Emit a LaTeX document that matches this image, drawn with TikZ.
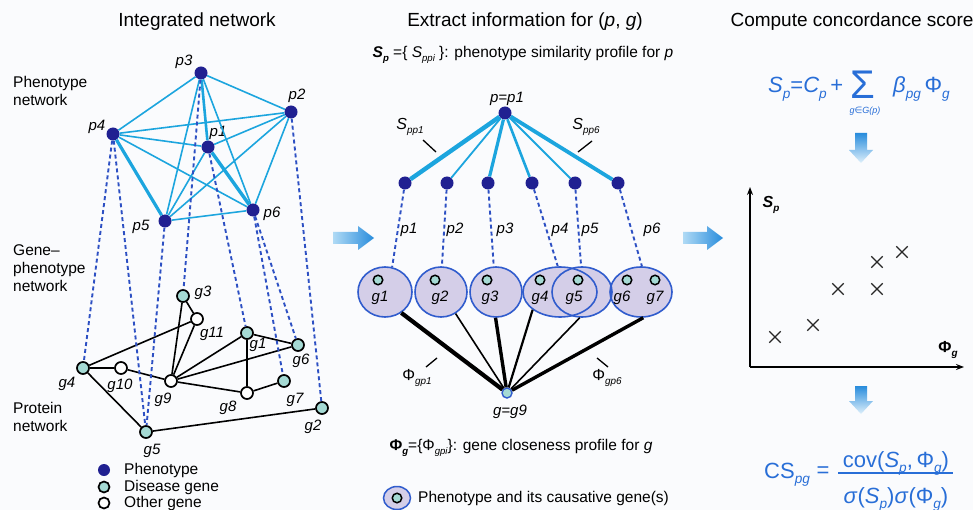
\documentclass[tikz,border=0pt]{standalone}
\usepackage{fontspec}
\setmainfont{Liberation Sans}
\newfontfamily\djv{DejaVu Sans}
\usetikzlibrary{shapes.geometric,shapes.misc,arrows.meta}
\definecolor{bgc}{RGB}{250,251,253}
\definecolor{phc}{RGB}{32,32,145}
\definecolor{pec}{RGB}{28,165,222}
\definecolor{dlc}{RGB}{45,80,195}
\definecolor{dgc}{RGB}{165,218,212}
\definecolor{elf}{RGB}{212,206,232}
\definecolor{eld}{RGB}{48,92,205}
\definecolor{fmc}{RGB}{40,110,215}
\definecolor{arA}{RGB}{40,140,220}
\definecolor{arB}{RGB}{175,218,245}
\newcommand\mysub[1]{\raisebox{-0.45ex}{\scalebox{0.62}{\itshape #1}}}
\begin{document}
\begin{tikzpicture}[x=1pt,y=-1pt,
  title/.style={font=\fontsize{19}{22}\selectfont, inner sep=0pt},
  side/.style={font=\fontsize{15.5}{18}\selectfont, align=left, inner sep=0pt, anchor=west},
  lab/.style={font=\fontsize{15}{17}\selectfont\itshape, inner sep=0pt},
  txt/.style={font=\fontsize{15.5}{18}\selectfont, inner sep=0pt},
  pheno/.style={circle, fill=phc, minimum size=13pt, inner sep=0pt},
  dgene/.style={circle, fill=dgc, draw=black, line width=1.7pt, minimum size=12pt, inner sep=0pt},
  ogene/.style={circle, fill=white, draw=black, line width=1.7pt, minimum size=12pt, inner sep=0pt},
  sgene/.style={dgene, minimum size=9.5pt, line width=1.5pt},
  pedge/.style={draw=pec, line width=1.6pt},
  gedge/.style={draw=black, line width=1.6pt},
  dline/.style={draw=dlc, line width=1.9pt, dash pattern=on 4pt off 3pt},
  phfill/.style={ellipse, fill=elf, inner sep=0pt, minimum height=50pt},
  phline/.style={ellipse, draw=eld, line width=1.6pt, inner sep=0pt, minimum height=50pt},
  fm/.style={font=\fontsize{22}{26}\selectfont, text=fmc, inner sep=0pt},
  xmark/.style={cross out, draw=black!85, line width=1.3pt, minimum size=10pt, inner sep=0pt},
]
\fill[bgc] (0,0) rectangle (973,510);
\useasboundingbox (0,0) rectangle (973,510);

% ---------- titles
\node[title] (t1) at (197,22) {Integrated network};
\node[title] (t2) at (525,22) {Extract information for (\textit{p}, \textit{g})};
\node[title] (t3) at (852,22) {Compute concordance score};

% ---------- left panel
\node[side] (lph) at (13,91) {Phenotype\\network};
\node[side] (lgp) at (13,268) {Gene–\\phenotype\\network};
\node[side] (lpr) at (13,417) {Protein\\network};

\node[pheno] (p3) at (201,73) {};
\node[pheno] (p2) at (291,112) {};
\node[pheno] (p4) at (113,134) {};
\node[pheno] (p1) at (208,147) {};
\node[pheno] (p6) at (253,210) {};
\node[pheno] (p5) at (165,221) {};
\node[lab] (lp3) at (184,62) {p3};
\node[lab] (lp2) at (297,96) {p2};
\node[lab] (lp4) at (97,127) {p4};
\node[lab] (lp1) at (218,133) {p1};
\node[lab] (lp6) at (272,214) {p6};
\node[lab] (lp5) at (141,227) {p5};

\draw[pedge] (p3) -- (p4);
\draw[pedge] (p3) -- (p2);
\draw[pedge, line width=2.6pt] (p3) -- (p1);
\draw[pedge] (p3) -- (p5);
\draw[pedge] (p3) -- (p6);
\draw[pedge] (p4) -- (p2);
\draw[pedge] (p4) -- (p1);
\draw[pedge] (p4) -- (p6);
\draw[pedge, line width=3.2pt] (p4) -- (p5);
\draw[pedge] (p2) -- (p1);
\draw[pedge] (p2) -- (p5);
\draw[pedge] (p2) -- (p6);
\draw[pedge] (p1) -- (p5);
\draw[pedge, line width=3.4pt] (p1) -- (p6);
\draw[pedge] (p5) -- (p6);

\node[dgene] (g3) at (183,296) {};
\node[ogene] (g11) at (197,319) {};
\node[dgene] (g1) at (247,333) {};
\node[dgene] (g6) at (298,345) {};
\node[dgene] (g4) at (83,368) {};
\node[ogene] (g10) at (121,368) {};
\node[ogene] (g9) at (171,381) {};
\node[dgene] (g7) at (284,381) {};
\node[ogene] (g8) at (247,393) {};
\node[dgene] (g2) at (322,408) {};
\node[dgene] (g5) at (146,432) {};
\node[lab] (lg3) at (203,293) {g3};
\node[lab] (lg11) at (212,334) {g11};
\node[lab] (lg1) at (258,345) {g1};
\node[lab] (lg6) at (301,361) {g6};
\node[lab] (lg4) at (67,384) {g4};
\node[lab] (lg10) at (120,386) {g10};
\node[lab] (lg9) at (163,400) {g9};
\node[lab] (lg7) at (295,400) {g7};
\node[lab] (lg8) at (228,408) {g8};
\node[lab] (lg2) at (313,427) {g2};
\node[lab] (lg5) at (152,451) {g5};

\draw[gedge] (g3) -- (g11);
\draw[gedge] (g3) -- (g9);
\draw[gedge] (g11) -- (g9);
\draw[gedge] (g11) -- (g4);
\draw[gedge] (g4) -- (g10);
\draw[gedge] (g4) -- (g5);
\draw[gedge] (g10) -- (g9);
\draw[gedge] (g9) -- (g1);
\draw[gedge] (g9) -- (g6);
\draw[gedge] (g9) -- (g8);
\draw[gedge] (g1) -- (g6);
\draw[gedge] (g1) -- (g8);
\draw[gedge] (g8) -- (g7);
\draw[gedge] (g5) -- (g2);

\draw[dline] (p4) -- (g4);
\draw[dline] (p4) -- (g5);
\draw[dline] (p5) -- (g5);
\draw[dline] (p3) -- (g3);
\draw[dline] (p1) -- (g1);
\draw[dline] (p6) -- (g7);
\draw[dline] (p6) -- (g6);
\draw[dline] (p2) -- (g2);

% left legend
\node[pheno, minimum size=12pt] (lgd1) at (104,470) {};
\node[dgene, minimum size=11pt] (lgd2) at (104,487) {};
\node[ogene, minimum size=11pt] (lgd3) at (104,503) {};
\node[txt, anchor=west] (lgt1) at (124,470) {Phenotype};
\node[txt, anchor=west] (lgt2) at (124,487) {Disease gene};
\node[txt, anchor=west] (lgt3) at (124,503) {Other gene};

% ---------- panel arrows
\shade[left color=arB, right color=arA] (333,232) -- (358,232) -- (358,226) -- (374,238) -- (358,250) -- (358,244) -- (333,244) -- cycle;
\shade[left color=arB, right color=arA] (683,232) -- (707,232) -- (707,226) -- (723,238) -- (707,250) -- (707,244) -- (683,244) -- cycle;
\shade[top color=arA, bottom color=arB!40!white] (855,133) -- (867,133) -- (867,150) -- (873,150) -- (861,163) -- (849,150) -- (855,150) -- cycle;
\shade[top color=arA, bottom color=arB!40!white] (855,386) -- (867,386) -- (867,401) -- (873,401) -- (861,414) -- (849,401) -- (855,401) -- cycle;

% ---------- middle panel
\node[txt] (sprof) at (523,55) {\textbf{\textit{S}}\mysub{\bfseries p} =\{ \textit{S}\mysub{ppi} \}: phenotype similarity profile for \textit{p}};
\node[pheno] (pp) at (505,113) {};
\node[lab] (lpp) at (507,99) {p=p1};
\node[pheno] (q1) at (405,183) {};
\node[pheno] (q2) at (447,183) {};
\node[pheno] (q3) at (488,183) {};
\node[pheno] (q4) at (532,183) {};
\node[pheno] (q5) at (575,183) {};
\node[pheno] (q6) at (618,183) {};
\draw[pedge, line width=4.4pt] (pp) -- (q1);
\draw[pedge, line width=1.8pt] (pp) -- (q2);
\draw[pedge, line width=3.2pt] (pp) -- (q3);
\draw[pedge, line width=2.6pt] (pp) -- (q4);
\draw[pedge, line width=1.9pt] (pp) -- (q5);
\draw[pedge, line width=3.8pt] (pp) -- (q6);
\node[lab, font=\fontsize{16}{18}\selectfont] (spp1) at (410,127) {\itshape S\mysub{pp1}};
\node[lab, font=\fontsize{16}{18}\selectfont] (spp6) at (586,127) {\itshape S\mysub{pp6}};
\draw[line width=1.3pt] (423,140) -- (436,152);
\draw[line width=1.3pt] (592,141) -- (578,152);

\node[phfill, minimum width=54pt] (e1f) at (385,292) {};
\node[phfill, minimum width=52pt] (e2f) at (441,292) {};
\node[phfill, minimum width=52pt] (e3f) at (496,292) {};
\node[phfill, minimum width=74pt] (e4f) at (560,292) {};
\node[phfill, minimum width=60pt] (e5f) at (582,292) {};
\node[phfill, minimum width=62pt] (e6f) at (641,292) {};
\node[phline, minimum width=54pt] (e1) at (385,292) {};
\node[phline, minimum width=52pt] (e2) at (441,292) {};
\node[phline, minimum width=52pt] (e3) at (496,292) {};
\node[phline, minimum width=74pt] (e4) at (560,292) {};
\node[phline, minimum width=60pt] (e5) at (582,292) {};
\node[phline, minimum width=62pt] (e6) at (641,292) {};

\node[sgene] (m1) at (378,280) {};
\node[sgene] (m2) at (435,280) {};
\node[sgene] (m3) at (487,280) {};
\node[sgene] (m4) at (540,280) {};
\node[sgene] (m5) at (578,280) {};
\node[sgene] (m6) at (627,280) {};
\node[sgene] (m7) at (655,280) {};
\node[lab] (lm1) at (380,298) {g1};
\node[lab] (lm2) at (440,298) {g2};
\node[lab] (lm3) at (490,298) {g3};
\node[lab] (lm4) at (540,298) {g4};
\node[lab] (lm5) at (574,298) {g5};
\node[lab] (lm6) at (622,298) {g6};
\node[lab] (lm7) at (655,298) {g7};

\draw[dline] (q1) -- (e1.74);
\draw[dline] (q2) -- (e2.88);
\draw[dline] (q3) -- (e3.95);
\draw[dline] (q4) -- (e4.95);
\draw[dline] (q5) -- (e5.92);
\draw[dline] (q6) -- (e6.88);
\node[lab] (lq1) at (409,230) {p1};
\node[lab] (lq2) at (455,230) {p2};
\node[lab] (lq3) at (505,230) {p3};
\node[lab] (lq4) at (560,230) {p4};
\node[lab] (lq5) at (590,230) {p5};
\node[lab] (lq6) at (652,230) {p6};

\node[circle, fill=dgc, draw=eld, line width=1.4pt, minimum size=10pt, inner sep=0pt] (m9) at (507,393) {};
\node[lab] (lm9) at (510,412) {g=g9};
\draw[line width=4.2pt] (m9) -- (e1.-52);
\draw[line width=1.6pt] (m9) -- (e2.-56);
\draw[line width=3.4pt] (m9) -- (e3.-91);
\draw[line width=2.2pt] (m9) -- (e4.-147);
\draw[line width=1.6pt] (m9) -- (e5.-95);
\draw[line width=3.4pt] (m9) -- (e6.-85);
\node[lab, font=\fontsize{16}{18}\selectfont] (pg1) at (417,378) {Φ\mysub{gp1}};
\node[lab, font=\fontsize{16}{18}\selectfont] (pg6) at (607,378) {Φ\mysub{gp6}};
\draw[line width=1.3pt] (437,358) -- (426,367);
\draw[line width=1.3pt] (597,358) -- (608,367);

\node[txt] (gprof) at (521,448) {\textbf{Φ}\mysub{\bfseries g}=\{Φ\mysub{gpi}\}: gene closeness profile for \textit{g}};

\node[ellipse, fill=elf, draw=eld, line width=1.5pt, minimum width=27pt, minimum height=23pt, inner sep=0pt] (lge) at (397,498) {};
\node[sgene] (lgg) at (397,498) {};
\node[txt, anchor=west] (lget) at (418,498) {Phenotype and its causative gene(s)};

% ---------- right panel
\node[fm, anchor=base west] (f1a) at (768,93) {\itshape S\mysub{p}\upshape=\itshape C\mysub{p}\upshape\,+};
\node[fm, anchor=base, font=\fontsize{40}{40}\selectfont] (sig) at (863,99) {Σ};
\node[text=fmc, inner sep=0pt, font=\fontsize{9}{10}\selectfont\itshape] (sigsub) at (865,111) {g{\upshape\djv ∈}G(p)};
\node[fm, anchor=base west] (f1b) at (893,93) {\itshape β\mysub{pg}\upshape\,Φ\mysub{g}};

\coordinate (O) at (750,367);
\coordinate (Ytop) at (750,187);
\coordinate (Xend) at (964,367);
\draw[line width=1.5pt, -{Stealth[length=8pt,width=6pt]}] (O) -- (Ytop);
\draw[line width=1.5pt, -{Stealth[length=8pt,width=6pt]}] (O) -- (Xend);
\node[lab, font=\fontsize{16}{18}\selectfont\bfseries\itshape] (ysp) at (771,205) {S\mysub{p}};
\node[lab, font=\fontsize{16}{18}\selectfont\bfseries] (xpg) at (948,350) {Φ\mysub{g}};
\node[xmark] (c1) at (775,337) {};
\node[xmark] (c2) at (813,325) {};
\node[xmark] (c3) at (838,289) {};
\node[xmark] (c4) at (877,289) {};
\node[xmark] (c5) at (877,262) {};
\node[xmark] (c6) at (902,252) {};

\node[fm, anchor=base west] (cs) at (764,478) {CS\mysub{pg}};
\node[fm] (eq) at (823,472) {=};
\node[fm, anchor=base] (num) at (896,467) {cov(\textit{S}\mysub{p},\,Φ\mysub{g})};
\node[fm, anchor=base] (den) at (896,503) {\textit{σ}(\textit{S}\mysub{p})\textit{σ}(Φ\mysub{g})};
\draw[fmc, line width=1.4pt] (838,473) -- (953,473);
\end{tikzpicture}
\end{document}
